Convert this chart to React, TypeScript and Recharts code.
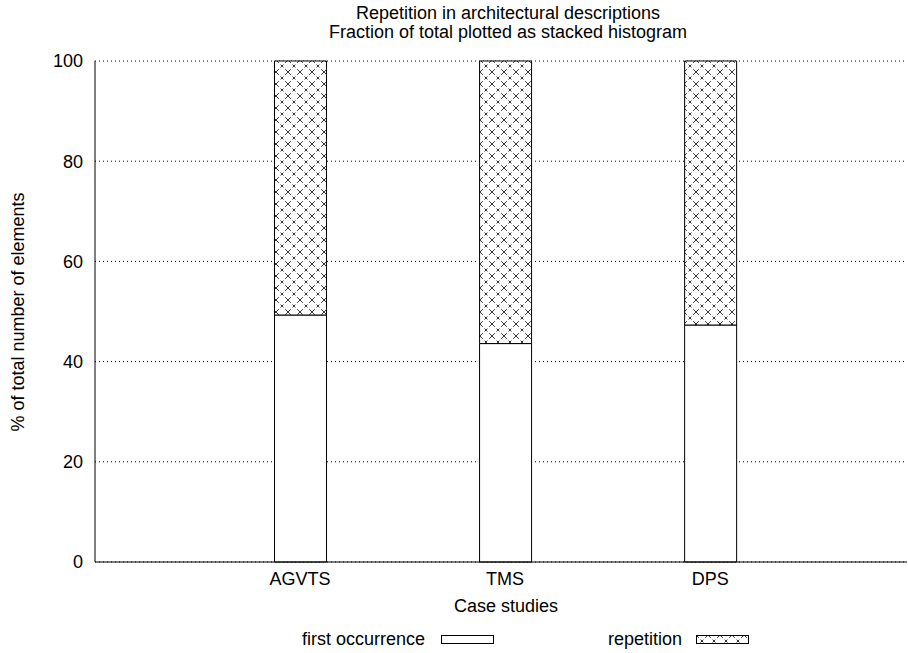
import { BarChart, Bar, XAxis, YAxis, CartesianGrid } from "recharts";

const categories = ["AGVTS", "TMS", "DPS"];
const firstOccurrence = [49.3, 43.6, 47.3];
const repetition = [50.7, 56.4, 52.7];
const yTicks = [0, 20, 40, 60, 80, 100];
const xPositions = [0, 1, 2];

const data = categories.map((name, i) => ({
  x: xPositions[i],
  name,
  first: firstOccurrence[i],
  rep: repetition[i],
}));

const font = "'Liberation Sans', Arial, Helvetica, sans-serif";

function Hatch({ id }: { id: string }) {
  return (
    <pattern id={id} patternUnits="userSpaceOnUse" width={12} height={12}>
      <rect width={12} height={12} fill="#fff" />
      <path d="M0,0 L12,12 M12,0 L0,12" stroke="#000" strokeWidth={0.8} strokeDasharray="4 2.5" />
    </pattern>
  );
}

export default function App() {
  const label = (x: number, y: number, text: string, extra: any = {}) => (
    <div
      style={{
        position: "absolute",
        left: x,
        top: y,
        fontFamily: font,
        fontSize: 18,
        color: "#000",
        whiteSpace: "nowrap",
        lineHeight: "20px",
        ...extra,
      }}
    >
      {text}
    </div>
  );

  return (
    <div style={{ position: "absolute", left: 0, top: 0, width: 908, height: 653, background: "#fff" }}>
      <BarChart
        width={908}
        height={653}
        data={data}
        margin={{ top: 61, right: 1, left: 0, bottom: 61 }}
        barSize={52}
      >
        <defs>
          <Hatch id="hatch" />
        </defs>
        <CartesianGrid vertical={false} stroke="#000" strokeDasharray="1 3" />
        <XAxis
          type="number"
          dataKey="x"
          domain={[-1, 2.96]}
          allowDataOverflow
          ticks={xPositions}
          tickFormatter={(v) => categories[v] ?? ""}
          height={30}
          tickLine={false}
          tickSize={6}
          tickMargin={4}
          axisLine={{ stroke: "#000" }}
          tick={{ fontSize: 18, fill: "#000", fontFamily: font }}
        />
        <YAxis
          domain={[0, 100]}
          ticks={yTicks}
          width={95}
          tickLine={false}
          tickSize={6}
          tickMargin={6}
          axisLine={{ stroke: "#000" }}
          tick={{ fontSize: 18, fill: "#000", fontFamily: font }}
        />
        <Bar dataKey="first" stackId="a" fill="#fff" stroke="#000" strokeWidth={1} isAnimationActive={false} />
        <Bar dataKey="rep" stackId="a" fill="url(#hatch)" stroke="#000" strokeWidth={1} isAnimationActive={false} />
      </BarChart>

      {label(0, 3, "Repetition in architectural descriptions", { width: 1016, textAlign: "center" })}
      {label(0, 22, "Fraction of total plotted as stacked histogram", { width: 1016, textAlign: "center" })}
      {label(0, 596, "Case studies", { width: 1012, textAlign: "center" })}
      <div
        style={{
          position: "absolute",
          left: 18,
          top: 312,
          transform: "translate(-50%, -50%) rotate(-90deg)",
          fontFamily: font,
          fontSize: 18,
          whiteSpace: "nowrap",
          lineHeight: "20px",
        }}
      >
        % of total number of elements
      </div>

      {label(302, 629, "first occurrence")}
      <svg style={{ position: "absolute", left: 441, top: 635 }} width={54} height={10}>
        <rect x={0.5} y={0.5} width={52} height={8} fill="#fff" stroke="#000" />
      </svg>
      {label(608, 629, "repetition")}
      <svg style={{ position: "absolute", left: 696, top: 635 }} width={54} height={10}>
        <defs>
          <Hatch id="hatchLegend" />
        </defs>
        <rect x={0.5} y={0.5} width={52} height={8} fill="url(#hatchLegend)" stroke="#000" />
      </svg>
    </div>
  );
}
